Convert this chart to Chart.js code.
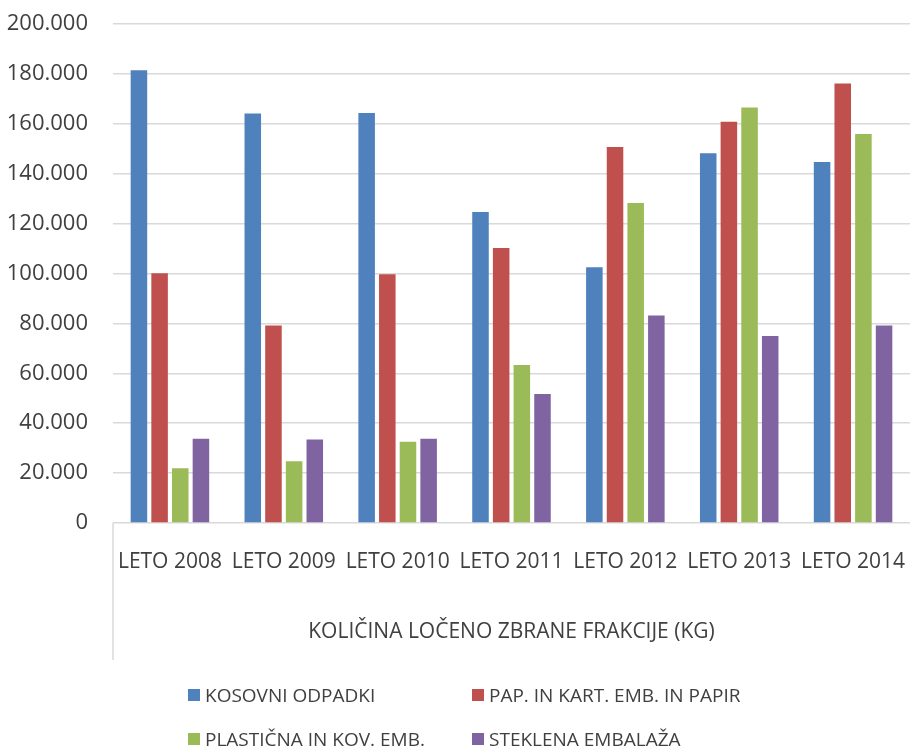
<!DOCTYPE html>
<html>
<head>
<meta charset="utf-8">
<script src="https://cdn.jsdelivr.net/npm/chart.js@4/dist/chart.umd.min.js"></script>
<style>
  html, body { margin:0; padding:0; background:#fff; }
  body { width:910px; height:747px; overflow:hidden; position:relative; font-family:"Open Sans", sans-serif; }
  #wrap { position:absolute; left:0; top:0; width:910px; height:747px; }
  #legend { position:absolute; left:0; top:0; width:910px; height:747px; pointer-events:none; }
  .item { position:absolute; display:flex; align-items:center; font-size:19px; color:#404040; white-space:nowrap; }
  .item i { display:inline-block; width:12px; height:12px; margin-right:5px; }
</style>
</head>
<body>
<div id="wrap"><canvas id="chart" width="910" height="747"></canvas></div>
<div id="legend"></div>
<script>
// Data
const categories = ["LETO 2008","LETO 2009","LETO 2010","LETO 2011","LETO 2012","LETO 2013","LETO 2014"];
const seriesNames = ["KOSOVNI ODPADKI","PAP. IN KART. EMB. IN PAPIR","PLASTIČNA IN KOV. EMB.","STEKLENA EMBALAŽA"];
const kosovni  = [181500, 164100, 164300, 124600, 102500, 148200, 144700];
const papir    = [100100,  79200,  99700, 110200, 150700, 160800, 176200];
const plastika = [ 21900,  24700,  32600,  63300, 128300, 166500, 155900];
const steklo   = [ 33800,  33500,  33800,  51700,  83200,  74900,  79200];
const yMin = 0, yMax = 200000, yStep = 20000;
const axisTitle = "KOLIČINA LOČENO ZBRANE FRAKCIJE (KG)";

const colors = ["#4f81bd","#c0504d","#9bbb59","#8064a2"];
const values = [kosovni, papir, plastika, steklo];

// 200000 -> "200.000"
const fmt = v => String(v).replace(/\B(?=(\d{3})+(?!\d))/g, ".");

// left border line of the category axis (multi-level look)
const axisBorder = {
  id: "axisBorder",
  afterDraw(chart){
    const {ctx, chartArea, scales} = chart;
    ctx.save();
    ctx.strokeStyle = "#d9d9d9"; ctx.lineWidth = 1.5;
    ctx.beginPath();
    ctx.moveTo(chartArea.left, chartArea.bottom);
    ctx.lineTo(chartArea.left, scales.x.bottom);
    ctx.stroke();
    ctx.restore();
  }
};

const chart = new Chart(document.getElementById("chart"), {
  type: "bar",
  data: {
    labels: categories,
    datasets: seriesNames.map((name, i) => ({
      label: name,
      data: values[i],
      backgroundColor: colors[i],
      borderWidth: 0,
      barPercentage: 0.8,
      categoryPercentage: 0.726
    }))
  },
  options: {
    responsive: false,
    animation: false,
    devicePixelRatio: 1,
    layout: { padding: { top: 24, right: 0, bottom: 87, left: 0 } },
    plugins: { legend: { display: false }, tooltip: { enabled: false } },
    scales: {
      x: {
        grid: { display: false, drawTicks: false },
        border: { display: false },
        ticks: { color: "#404040", padding: 26, font: { family: "Open Sans", size: 21 }, maxRotation: 0, autoSkip: false },
        title: { display: true, text: axisTitle, color: "#404040", font: { family: "Open Sans", size: 21 }, padding: { top: 0, bottom: 15 } },
        afterFit(s){ s.height = 137; s.paddingLeft = 0; s.paddingRight = 0; }
      },
      y: {
        min: yMin, max: yMax,
        grid: { color: "#d9d9d9", lineWidth: 1.5, drawTicks: false },
        border: { display: false },
        ticks: { stepSize: yStep, color: "#404040", padding: 25, font: { family: "Open Sans", size: 22 }, callback: v => fmt(v) },
        afterFit(s){ s.width = 113; s.paddingTop = 0; s.paddingBottom = 0; }
      }
    }
  },
  plugins: [axisBorder]
});

// Legend in two aligned columns
const legend = document.getElementById("legend");
const pos = [[188,695],[472,695],[188,739],[472,739]];
chart.data.datasets.forEach((ds, i) => {
  const el = document.createElement("div");
  el.className = "item";
  el.style.left = pos[i][0] + "px";
  el.style.top = (pos[i][1] - 12) + "px";
  el.style.height = "24px";
  el.innerHTML = `<i style="background:${ds.backgroundColor}"></i>${ds.label}`;
  legend.appendChild(el);
});
</script>
</body>
</html>
